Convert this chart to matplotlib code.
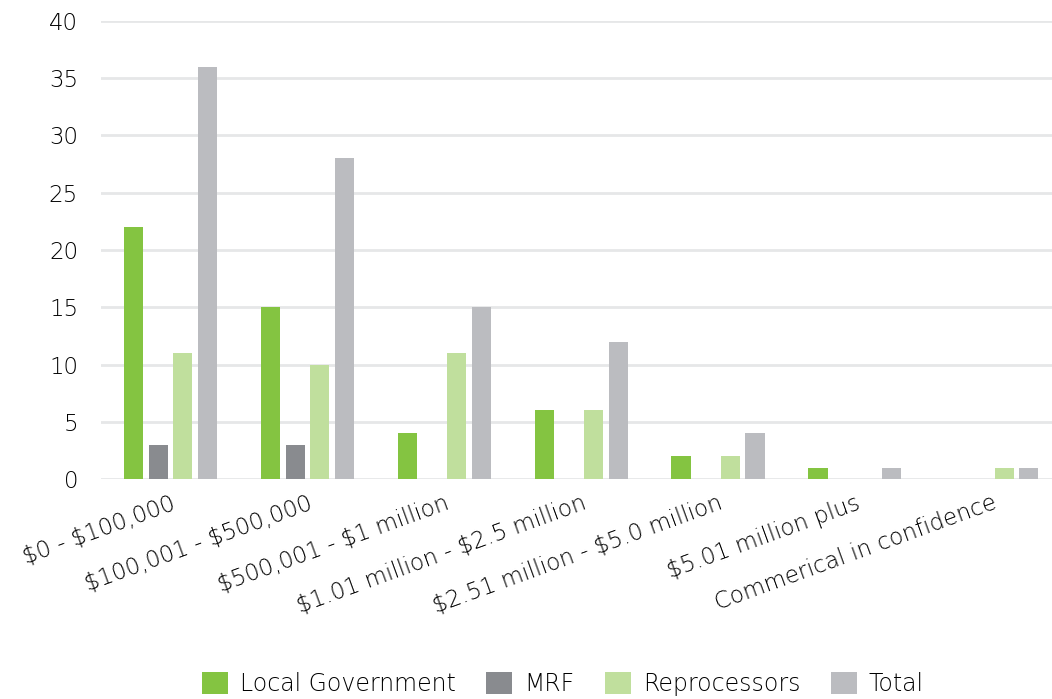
import numpy as np
import matplotlib.pyplot as plt
from matplotlib.patches import Patch

plt.rcParams['font.family'] = ['DejaVu Sans']
plt.rcParams['font.weight'] = 'light'

categories = ["\\$0 - \\$100,000", "\\$100,001 - \\$500,000", "\\$500,001 - \\$1 million",
              "\\$1.01 million - \\$2.5 million", "\\$2.51 million - \\$5.0 million",
              "\\$5.01 million plus", "Commerical in confidence"]
series_names = ["Local Government", "MRF", "Reprocessors", "Total"]
local_gov = [22, 15, 4, 6, 2, 1, 0]
mrf = [3, 3, 0, 0, 0, 0, 0]
reprocessors = [11, 10, 11, 6, 2, 0, 1]
total = [36, 28, 15, 12, 4, 1, 1]
colors = ["#84c441", "#898b8f", "#c0df9d", "#bbbcc0"]
txt = "#000000"

fig = plt.figure(figsize=(10.52, 6.99), dpi=100)
ax = fig.add_axes([101 / 1052, 1 - 479 / 699, 1 - 101 / 1052, (479 - 21) / 699])

x = np.arange(len(categories))
step = 0.18
width = 0.14
for i, vals in enumerate([local_gov, mrf, reprocessors, total]):
    ax.bar(x + (i - 1.5) * step, vals, width, color=colors[i], zorder=3)

ax.set_ylim(0, 40)
ax.set_xlim(-0.508, 6.44)
ax.set_yticks(range(0, 41, 5))
ax.yaxis.grid(True, color="#e6e7e8", linewidth=2, zorder=0)
ax.set_axisbelow(True)
for s in ax.spines.values():
    s.set_visible(False)
ax.tick_params(axis='y', length=0, pad=16.5, labelsize=16.5, labelcolor=txt)
ax.tick_params(axis='x', length=0, pad=9)
ax.set_xticks(x)
ax.set_xticklabels(categories, rotation=20, ha='right', rotation_mode='anchor',
                   fontsize=16.5, color=txt)

handles = [Patch(facecolor=c, edgecolor='none') for c in colors]
fig.legend(handles, series_names, loc='center', bbox_to_anchor=(563 / 1052, 1 - 684 / 699),
           ncol=4, frameon=False, fontsize=17, handlelength=1.1, handleheight=1.1,
           handletextpad=0.5, columnspacing=1.3, labelcolor=txt)

fig.savefig("out.png", dpi=100)
